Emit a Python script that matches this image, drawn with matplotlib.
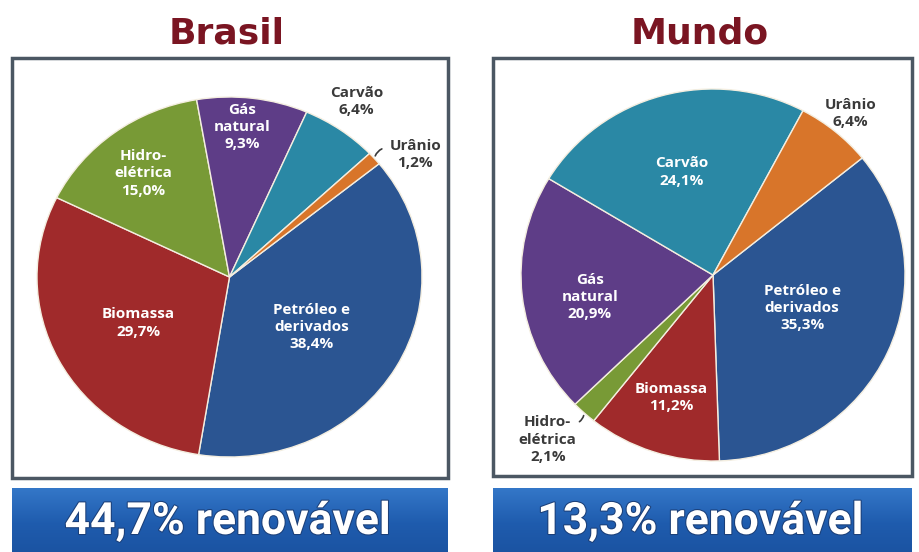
import matplotlib
matplotlib.use("Agg")
import matplotlib.pyplot as plt
import matplotlib.patheffects as pe
import numpy as np
from matplotlib.patches import Rectangle
from matplotlib.colors import LinearSegmentedColormap

# dados (matriz energetica, %)
fontes = ["Petróleo e\nderivados", "Biomassa", "Hidro-\nelétrica", "Gás\nnatural", "Carvão", "Urânio"]
brasil = [38.4, 29.7, 15.0, 9.3, 6.4, 1.2]
mundo = [35.3, 11.2, 2.1, 20.9, 24.1, 6.4]
titulos = ["Brasil", "Mundo"]
renovavel = ["44,7% renovável", "13,3% renovável"]

cores = ["#2b5592", "#a02a2b", "#789a36", "#5e3d87", "#2a88a5", "#d8752a"]

W, H = 919, 552
fig = plt.figure(figsize=(W / 100, H / 100), dpi=100)
fig.patch.set_facecolor("white")

# eixo de fundo em pixels
bg = fig.add_axes([0, 0, 1, 1])
bg.set_xlim(0, W)
bg.set_ylim(H, 0)
bg.axis("off")

caixas = [(12, 58, 436, 420), (493, 58, 419, 418)]
faixas = [(12, 488, 436, 70), (493, 488, 419, 70)]
grad = np.linspace(0, 1, 100).reshape(-1, 1)
cmap_faixa = LinearSegmentedColormap.from_list("faixa", ["#3477c8", "#1f5cae", "#1a52a0"])

for i in range(2):
    x, y, w, h = caixas[i]
    bg.add_patch(Rectangle((x, y), w, h, facecolor="white", edgecolor="#4b5763", lw=2.5))
    fx, fy, fw, fh = faixas[i]
    bg.imshow(grad, cmap=cmap_faixa, aspect="auto", extent=(fx, fx + fw, fy + fh, fy), zorder=1)
    bg.text(x + w / 2 - 3, 34, titulos[i], ha="center", va="center", fontsize=26,
            fontweight="bold", color="#7a1522", family="DejaVu Sans")
    bg.text(fx + fw / 2 - 2, 522, renovavel[i], ha="center", va="center", fontsize=32,
            fontweight="bold", color="white", zorder=3,
            family=["Roboto", "DejaVu Sans"],
            path_effects=[pe.withStroke(linewidth=1.5, foreground="#1b3f78")])
bg.set_xlim(0, W)
bg.set_ylim(H, 0)

# geometria das pizzas (pixels): centro, raio x, raio y
geo = [(229.5, 277, 192.5, 180), (713, 275, 192, 186)]
# posicao dos rotulos: raio relativo e ajuste de angulo
rot_r = [[0.51, 0.54, 0.73, 0.835, 1.176, 1.18], [0.497, 0.695, 1.235, 0.652, 0.577, 1.124]]
rot_da = [[-3, 1, 1, 2.4, 1, -6], [3.6, 0, -2, 4, 0.8, 0]]
fora = [[False, False, False, False, True, True], [False, False, True, False, False, True]]
guia = [(5, (0.805, 0.717)), (2, (-0.708, -0.796))]

for i, dados in enumerate([brasil, mundo]):
    cx, cy, rx, ry = geo[i]
    ax = fig.add_axes([(cx - rx) / W, (H - cy - ry) / H, 2 * rx / W, 2 * ry / H])
    wedges, _ = ax.pie(dados, colors=cores, startangle=39, counterclock=False,
                       wedgeprops=dict(edgecolor="#f4eee0", linewidth=1.0))
    ax.set_aspect("auto")
    ax.set_xlim(-1, 1)
    ax.set_ylim(-1, 1)
    ax.axis("off")
    for j, w in enumerate(wedges):
        ang = np.deg2rad((w.theta1 + w.theta2) / 2 + rot_da[i][j])
        r = rot_r[i][j]
        txt = fontes[j] + "\n" + ("%.1f" % dados[j]).replace(".", ",") + "%"
        cor = "#3a3a3a" if fora[i][j] else "white"
        ax.text(r * np.cos(ang), r * np.sin(ang), txt, ha="center", va="center",
                fontsize=11, fontweight="bold", color=cor, linespacing=1.3,
                family=["Open Sans", "DejaVu Sans"])
    j, fim = guia[i]
    w = wedges[j]
    a = np.deg2rad((w.theta1 + w.theta2) / 2)
    ax.annotate("", xy=(np.cos(a), np.sin(a)), xytext=fim,
                arrowprops=dict(arrowstyle="-", color="#3a3a3a", lw=1.2,
                                connectionstyle="arc3,rad=0.3"),
                annotation_clip=False)

fig.savefig("out.png", dpi=100)
